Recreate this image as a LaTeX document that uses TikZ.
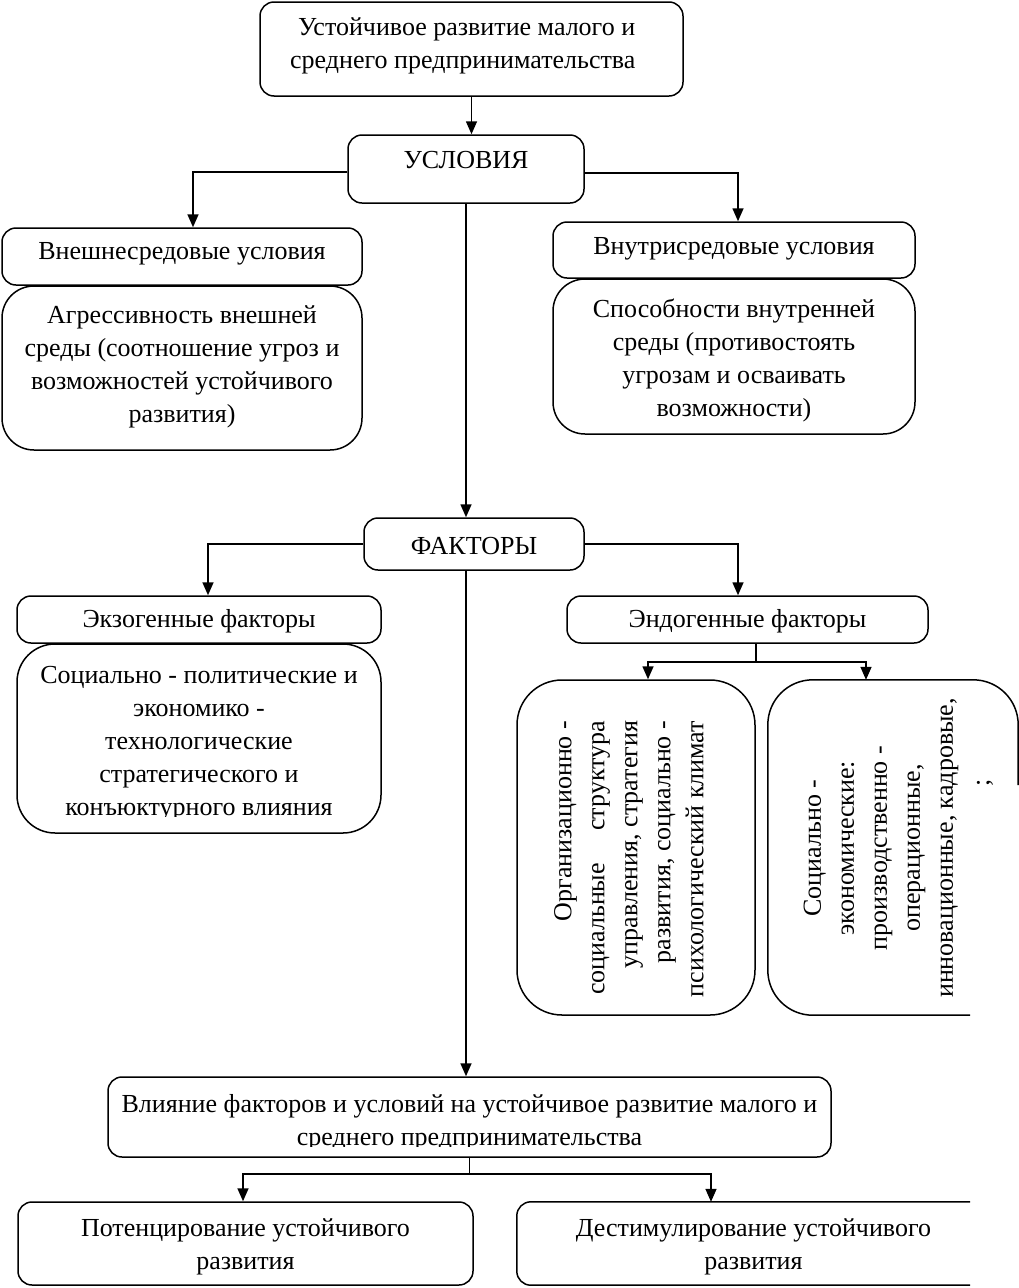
\documentclass[tikz,border=0pt]{standalone}
\usepackage{fontspec}
\setmainfont{Liberation Serif}
\usetikzlibrary{arrows.meta}
\newcommand\myfs{\fontsize{26}{33}\selectfont}
\begin{document}
\begin{tikzpicture}[x=1pt,y=-1pt,
  box/.style={draw,line width=1.5pt,rounded corners=14pt,inner sep=0pt},
  bigbox/.style={draw,line width=1.5pt,rounded corners=32pt,inner sep=0pt},
  area/.style={inner sep=0pt},
  txt/.style={inner sep=0pt,align=center,font=\myfs},
  arr/.style={line width=1.6pt,-{Triangle[length=13pt,width=11pt]}},
  conn/.style={line width=1.6pt},
  thinconn/.style={line width=0.7pt}]
\useasboundingbox (0,0) rectangle (1019,1288);

\node[box,minimum width=423pt,minimum height=94pt] (top) at (471.5,49) {};
\node[txt,align=left,anchor=west] (topT) at (290,46) {\hspace{8pt}Устойчивое развитие малого и\\среднего предпринимательства};

\node[box,minimum width=236pt,minimum height=68pt] (usl) at (466,169) {};
\node[txt] (uslT) at (466,160) {УСЛОВИЯ};

\node[box,minimum width=360pt,minimum height=57pt] (vnesh) at (182,256.5) {};
\node[txt] (vneshT) at (182,254) {Внешнесредовые условия};
\node[bigbox,minimum width=360pt,minimum height=164pt] (agr) at (182,368) {};
\node[txt] (agrT) at (182,367) {Агрессивность внешней\\среды (соотношение угроз и\\возможностей устойчивого\\развития)};

\node[box,minimum width=362pt,minimum height=56pt] (vnutr) at (734,250) {};
\node[txt] (vnutrT) at (734,249) {Внутрисредовые условия};
\node[bigbox,minimum width=362pt,minimum height=155pt] (spos) at (734,356.5) {};
\node[txt] (sposT) at (734,360) {Способности внутренней\\среды (противостоять\\угрозам и осваивать\\возможности)};

\node[box,minimum width=220pt,minimum height=52pt] (fak) at (474,544) {};
\node[txt] (fakT) at (474,546) {ФАКТОРЫ};

\node[box,minimum width=364pt,minimum height=47pt] (ekz) at (199,619.5) {};
\node[txt] (ekzT) at (199,621) {Экзогенные факторы};
\node[bigbox,rounded corners=38pt,minimum width=364pt,minimum height=189pt] (soc) at (199,738.5) {};
\node[txt] (socT) at (199,744) {Социально - политические и\\экономико -\\технологические\\стратегического и\\конъюктурного влияния};
\fill[white] ([yshift=4.3pt]socT.south west) rectangle ([yshift=-0.5pt]socT.south east);

\node[box,minimum width=361pt,minimum height=47pt] (endo) at (747.5,619.5) {};
\node[txt] (endoT) at (747.5,621) {Эндогенные факторы};

\node[bigbox,rounded corners=45pt,minimum width=238pt,minimum height=335pt] (org) at (636,847.5) {};
\node[txt,rotate=90,align=right] (orgT) at (629,859) {Организационно -\\социальные\quad\ структура\\управления, стратегия\\развития, социально -\\психологический климат};

\node[area,minimum width=250pt,minimum height=335pt] (socek) at (893,847.5) {};
\begin{scope}
  \clip (760,670) -- (1019,670) -- (1019,785) -- (970,785) -- (970,1020) -- (760,1020) -- cycle;
  \draw[line width=1.5pt,rounded corners=45pt] (socek.south west) rectangle (socek.north east);
\end{scope}
\node[txt,rotate=90] (socekT) at (881,848) {Социально -\\экономические:\\производственно -\\операционные,\\инновационные, кадровые,};
\node[txt,rotate=90] (semi) at (985,783) {;};

\node[box,minimum width=723pt,minimum height=80pt] (vliy) at (469.5,1117) {};
\node[txt] (vliyT) at (469.5,1123) {Влияние факторов и условий на устойчивое развитие малого и\\среднего предпринимательства};
\fill[white] ([yshift=4.3pt]vliyT.south west) rectangle ([yshift=-0.5pt]vliyT.south east);

\node[box,minimum width=455pt,minimum height=83pt] (pot) at (245.5,1243.5) {};
\node[txt] (potT) at (245.5,1247) {Потенцирование устойчивого\\развития};

\node[area,minimum width=473pt,minimum height=83pt] (dest) at (753.5,1243.5) {};
\begin{scope}
  \clip (500,1190) rectangle (970,1288);
  \draw[line width=1.5pt,rounded corners=14pt] (dest.south west) rectangle (dest.north east);
\end{scope}
\node[txt] (destT) at (753.5,1247) {Дестимулирование устойчивого\\развития};

% connectors
\draw[arr] (top.south) -- (top.south |- usl.north);
\draw[arr] ([yshift=-3pt]usl.west) -| ([xshift=11pt]vnesh.north);
\draw[arr] ([yshift=-4pt]usl.east) -| ([xshift=4pt]vnutr.north);
\draw[arr] (usl.south) -- (usl.south |- fak.north);
\draw[arr] (fak.west) -| ([xshift=9pt]ekz.north);
\draw[arr] (fak.east) -| ([xshift=-9.5pt]endo.north);
\draw[arr] ([xshift=-8pt]fak.south) -- ([xshift=-8pt]fak.south |- vliy.north);
\draw[conn] ([xshift=8.5pt]endo.south) -- ++(0,18) coordinate (ej);
\draw[arr] (ej) -| ([xshift=12pt]org.north);
\draw[arr] (ej) -| ([xshift=-27pt]socek.north);
\draw[thinconn] (vliy.south) -- ++(0,16) coordinate (vj);
\draw[arr] (vj) -| ([xshift=-2.5pt]pot.north);
\draw[arr] (vj) -| ([xshift=-42.5pt]dest.north);
\end{tikzpicture}
\end{document}
